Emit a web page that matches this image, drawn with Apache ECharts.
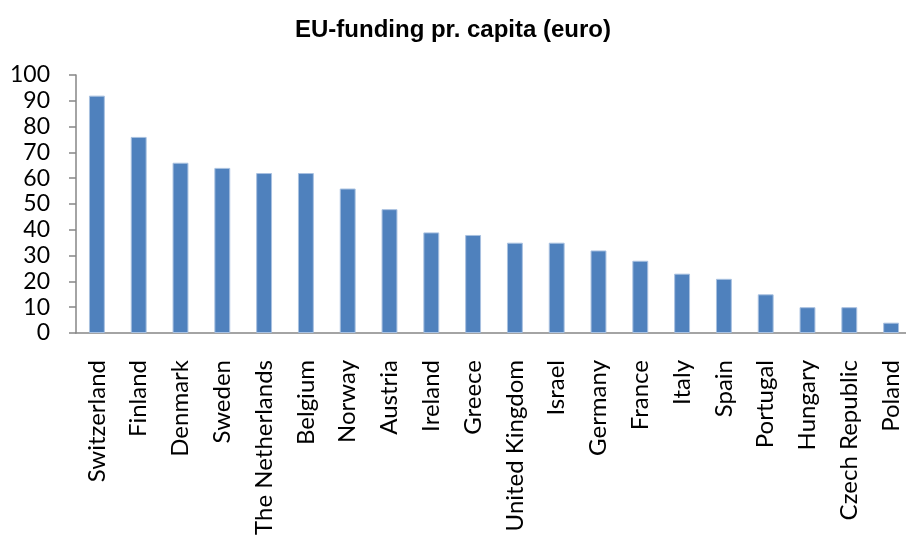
<!DOCTYPE html>
<html>
<head>
<meta charset="utf-8">
<script src="https://cdn.jsdelivr.net/npm/echarts@6/dist/echarts.min.js"></script>
<style>
  html, body { margin: 0; padding: 0; background: #fff; }
  #chart { width: 906px; height: 535px; }
</style>
</head>
<body>
<div id="chart"></div>
<script>
const countries = ['Switzerland', 'Finland', 'Denmark', 'Sweden', 'The Netherlands', 'Belgium', 'Norway',
  'Austria', 'Ireland', 'Greece', 'United Kingdom', 'Israel', 'Germany', 'France', 'Italy', 'Spain',
  'Portugal', 'Hungary', 'Czech Republic', 'Poland']
const funding = [92, 76, 66, 64, 62, 62, 56, 48, 39, 38, 35, 35, 32, 28, 23, 21, 15, 10, 10, 4]

let chart = echarts.init(document.getElementById('chart'))
chart.setOption({
  animation: false,
  title: {
    text: 'EU-funding pr. capita (euro)',
    left: 'center',
    top: 13,
    textStyle: {
      fontFamily: 'Liberation Sans',
      fontWeight: 'bold',
      fontSize: 24,
      color: '#000'
    }
  },
  grid: {
    left: 76,
    top: 75,
    width: 836,
    height: 258,
    containLabel: false,
    outerBoundsMode: 'none'
  },
  xAxis: {
    type: 'category',
    data: countries,
    axisLine: { lineStyle: { color: '#868686', width: 1.5 } },
    axisTick: { length: 7, lineStyle: { color: '#868686', width: 1.5 } },
    axisLabel: {
      rotate: 90,
      margin: 27,
      interval: 0,
      fontFamily: 'Lato',
      fontSize: 24,
      color: '#000'
    }
  },
  yAxis: {
    type: 'value',
    min: 0,
    max: 100,
    interval: 10,
    splitLine: { show: false },
    axisLine: { show: true, lineStyle: { color: '#868686', width: 1.5 } },
    axisTick: { show: true, length: 7, lineStyle: { color: '#868686', width: 1.5 } },
    axisLabel: {
      margin: 26,
      fontFamily: 'Lato',
      fontSize: 23,
      color: '#000'
    }
  },
  series: [
    {
      type: 'bar',
      data: funding,
      barCategoryGap: '62%',
      itemStyle: {
        color: '#4f81bd',
        borderColor: '#a9c1e0',
        borderWidth: 1
      }
    }
  ]
})
</script>
</body>
</html>
